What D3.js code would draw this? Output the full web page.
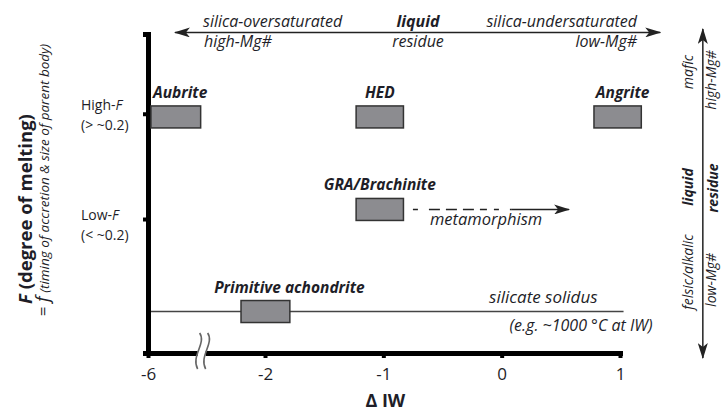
<!DOCTYPE html>
<html><head><meta charset="utf-8">
<script src="https://cdn.jsdelivr.net/npm/d3@7"></script>
<style>
body{margin:0;background:#fff;}
svg text{font-family:"Open Sans",sans-serif;fill:#1e1e28;}
</style></head><body>
<svg id="c" width="722" height="412"></svg>
<script>
// ---- data ----
const xTickValues = [-6, -2, -1, 0, 1];
const xTickLabels = ["-6", "-2", "-1", "0", "1"];
const fLevelNames = ["High-", "Low-"];
const fLevelRanges = ["(> ~0.2)", "(< ~0.2)"];
const fLevelValues = [0.75, 0.42];
const groupNames = ["Aubrite", "HED", "Angrite", "GRA/Brachinite", "Primitive achondrite"];
const groupIWMin = [-5.9, -1.23, 0.78, -1.23, -2.82];
const groupIWMax = [-4.2, -0.83, 1.18, -0.83, -1.79];
const groupF = [0.74, 0.74, 0.74, 0.45, 0.13];
const solidusF = 0.13;
const solidusIW = [-6, 1.03];
const metamorphismIW = [-0.75, 0.08, 0.57];
const metamorphismF = 0.45;
const topArrowIW = [-5.08, 1.34];
const topArrowF = 1.005;
const sideArrowIW = 1.7;
const sideArrowF = [1.016, -0.016];

// ---- scales ----
const svg = d3.select("#c");
const x = d3.scaleLinear().domain([-6, -2, 1]).range([148, 265, 620]);
const y = d3.scaleLinear().domain([0, 1]).range([353, 34]);

const defs = svg.append("defs");
defs.append("marker").attr("id", "ah").attr("viewBox", "0 0 16 10")
  .attr("refX", 15).attr("refY", 5).attr("markerWidth", 16).attr("markerHeight", 10)
  .attr("markerUnits", "userSpaceOnUse").attr("orient", "auto-start-reverse")
  .append("path").attr("d", "M0,0 L16,5 L0,10 L4,5 Z").attr("fill", "#222");

// ---- solidus line ----
svg.append("line")
  .attr("x1", x(solidusIW[0])).attr("x2", x(solidusIW[1]))
  .attr("y1", y(solidusF)).attr("y2", y(solidusF))
  .attr("stroke", "#444").attr("stroke-width", 1.5);

// ---- axes ----
const xAxis = d3.axisBottom(x).tickValues(xTickValues)
  .tickFormat((d, i) => xTickLabels[i]).tickSize(5).tickSizeOuter(0).tickPadding(10);
const gx = svg.append("g").attr("transform", `translate(0,${y(0)})`).call(xAxis);
gx.select(".domain").attr("stroke", "#000").attr("stroke-width", 5).attr("stroke-linecap", "square");
gx.selectAll(".tick line").attr("stroke", "#000").attr("stroke-width", 4);
gx.selectAll(".tick text").style("font-size", "17px").style("font-family", "Open Sans").attr("fill", "#1e1e28");

const yAxis = d3.axisLeft(y).tickValues(fLevelValues).tickFormat("").tickSize(5).tickSizeOuter(5);
const gy = svg.append("g").attr("transform", `translate(${x(-6)},0)`).call(yAxis);
gy.select(".domain").attr("stroke", "#000").attr("stroke-width", 5);
gy.selectAll(".tick line").attr("stroke", "#000").attr("stroke-width", 4);

// ---- axis break ----
const bx = x(-6) + 0.45 * (x(-2) - x(-6));
const by = y(0);
svg.append("rect").attr("x", bx - 3).attr("y", by - 4).attr("width", 8).attr("height", 8).attr("fill", "#fff");
[-3, 5].forEach(off => {
  const p = d3.path();
  p.moveTo(bx + off + 2, by - 20);
  p.bezierCurveTo(bx + off + 9, by - 10, bx + off - 7, by + 3, bx + off + 0, by + 16);
  svg.append("path").attr("d", p.toString()).attr("fill", "none")
    .attr("stroke", "#666").attr("stroke-width", 1.6);
});

// ---- boxes ----
const boxH = 22;
groupNames.forEach((name, i) => {
  svg.append("rect")
    .attr("x", x(groupIWMin[i])).attr("width", x(groupIWMax[i]) - x(groupIWMin[i]))
    .attr("y", y(groupF[i]) - boxH / 2).attr("height", boxH)
    .attr("fill", "#8c8c90").attr("stroke", "#333").attr("stroke-width", 1.5);
});
// labels
const labelAnchor = ["start", "middle", "middle", "middle", "middle"];
groupNames.forEach((name, i) => {
  const lx = labelAnchor[i] === "start" ? x(groupIWMin[i]) + 2 : (x(groupIWMin[i]) + x(groupIWMax[i])) / 2 + (i === 2 ? 5 : (i === 4 ? 24 : 0));
  svg.append("text").attr("x", lx).attr("y", y(groupF[i]) - boxH / 2 - 8)
    .attr("text-anchor", labelAnchor[i])
    .style("font-size", i === 4 ? "15.5px" : "15.5px").style("font-weight", "700").style("font-style", "italic")
    .text(name);
});

// ---- metamorphism arrow ----
const my = y(metamorphismF);
svg.append("line").attr("x1", x(metamorphismIW[0])).attr("x2", x(metamorphismIW[1]))
  .attr("y1", my).attr("y2", my).attr("stroke", "#222").attr("stroke-width", 1.5)
  .attr("stroke-dasharray", "5,11,11,6,11,6,11,6,7,7");
svg.append("line").attr("x1", x(metamorphismIW[1])).attr("x2", x(metamorphismIW[2]))
  .attr("y1", my).attr("y2", my).attr("stroke", "#222").attr("stroke-width", 1.5)
  .attr("marker-end", "url(#ah)");
svg.append("text").attr("x", x(metamorphismIW[0]) + 17).attr("y", my + 16)
  .attr("text-anchor", "start").style("font-size", "16.5px").style("font-style", "italic")
  .text("metamorphism");

// ---- solidus text ----
svg.append("text").attr("x", x(solidusIW[1]) - 26).attr("y", y(solidusF) - 9).attr("text-anchor", "end")
  .style("font-size", "17px").style("font-style", "italic").text("silicate solidus");
svg.append("text").attr("x", x(solidusIW[1]) + 29).attr("y", y(solidusF) + 19).attr("text-anchor", "end")
  .style("font-size", "16px").style("font-style", "italic").text("(e.g. ~1000 °C at IW)");

// ---- y level labels ----
fLevelNames.forEach((n, i) => {
  const t = svg.append("text").attr("x", 81).attr("y", y(fLevelValues[i]) - 4 + (i === 1 ? 5 : 0))
    .style("font-size", "14px");
  t.append("tspan").text(n);
  t.append("tspan").style("font-style", "italic").text("F");
  svg.append("text").attr("x", 81).attr("y", y(fLevelValues[i]) + 16 + (i === 1 ? 5 : 0))
    .style("font-size", "14px").text(fLevelRanges[i]);
});

// ---- axis titles ----
const xt = svg.append("text").attr("x", x(-1) + 2).attr("y", 407).attr("text-anchor", "middle")
  .style("font-size", "18px").style("font-weight", "700");
xt.append("tspan").text("Δ IW");

const yt = svg.append("text").attr("transform", "translate(32,209) rotate(-90)").attr("text-anchor", "middle")
  .style("font-size", "18.5px").style("font-weight", "700");
yt.append("tspan").style("font-style", "italic").text("F");
yt.append("tspan").text(" (degree of melting)");

const yt2 = svg.append("text").attr("transform", "translate(49,180) rotate(-90)").attr("text-anchor", "middle")
  .style("font-style", "italic");
yt2.append("tspan").style("font-size", "17px").style("font-style", "normal").text("= ");
yt2.append("tspan").style("font-size", "18px").text("f");
yt2.append("tspan").style("font-size", "13.5px").text(" (timing of accretion & size of parent body)");

// ---- top arrow ----
const ty = y(topArrowF);
svg.append("line").attr("x1", x(topArrowIW[0])).attr("x2", x(topArrowIW[1]))
  .attr("y1", ty).attr("y2", ty).attr("stroke", "#222").attr("stroke-width", 1.5)
  .attr("marker-start", "url(#ah)").attr("marker-end", "url(#ah)");
const topTexts = [
  ["silica-oversaturated", 203, ty - 5, "start", 400],
  ["high-Mg#", 204, ty + 15, "start", 400],
  ["liquid", 418, ty - 5, "middle", 700],
  ["residue", 418, ty + 15, "middle", 400],
  ["silica-undersaturated", 637, ty - 5, "end", 400],
  ["low-Mg#", 637, ty + 15, "end", 400]
];
topTexts.forEach(d => {
  svg.append("text").attr("x", d[1]).attr("y", d[2]).attr("text-anchor", d[3])
    .style("font-size", "16px").style("font-style", "italic").style("font-weight", d[4]).text(d[0]);
});

// ---- side arrow ----
const sx = x(sideArrowIW);
svg.append("line").attr("x1", sx).attr("x2", sx)
  .attr("y1", y(sideArrowF[0])).attr("y2", y(sideArrowF[1]))
  .attr("stroke", "#222").attr("stroke-width", 1.5)
  .attr("marker-start", "url(#ah)").attr("marker-end", "url(#ah)");
const sideTexts = [
  ["mafic", sx - 10, 72, 400],
  ["high-Mg#", sx + 13, 80, 400],
  ["liquid", sx - 10, 187, 700],
  ["residue", sx + 15, 188, 700],
  ["felsic/alkalic", sx - 10, 272, 400],
  ["low-Mg#", sx + 13, 280, 400]
];
sideTexts.forEach(d => {
  svg.append("text").attr("transform", `translate(${d[1]},${d[2]}) rotate(-90)`).attr("text-anchor", "middle")
    .style("font-size", "14px").style("font-style", "italic").style("font-weight", d[3]).text(d[0]);
});
</script>
</body></html>
